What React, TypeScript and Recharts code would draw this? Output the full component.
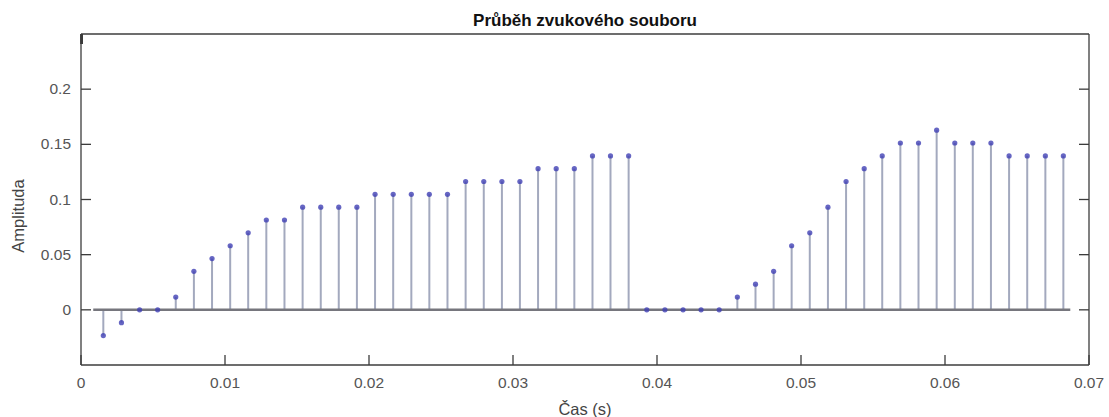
import React from 'react';
import { ComposedChart, Scatter, XAxis, YAxis, ReferenceLine } from 'recharts';

// sample times (s) and amplitudes of the stem plot
const TIMES = [
  0.00155, 0.00281, 0.00407, 0.00532, 0.00658, 0.00784, 0.0091, 0.01036, 0.01161, 0.01287,
  0.01413, 0.01539, 0.01665, 0.0179, 0.01916, 0.02042, 0.02168, 0.02294, 0.02419, 0.02545,
  0.02671, 0.02797, 0.02923, 0.03048, 0.03174, 0.033, 0.03426, 0.03552, 0.03677, 0.03803,
  0.03929, 0.04055, 0.04181, 0.04306, 0.04432, 0.04558, 0.04684, 0.0481, 0.04935, 0.05061,
  0.05187, 0.05313, 0.05439, 0.05564, 0.0569, 0.05816, 0.05942, 0.06068, 0.06193, 0.06319,
  0.06445, 0.06571, 0.06697, 0.06822,
];

const AMPLITUDES = [
  -0.0233, -0.0116, 0, 0, 0.0116, 0.0349, 0.0465, 0.0581, 0.0698, 0.0814,
  0.0814, 0.093, 0.093, 0.093, 0.093, 0.1047, 0.1047, 0.1047, 0.1047, 0.1047,
  0.1163, 0.1163, 0.1163, 0.1163, 0.1279, 0.1279, 0.1279, 0.1395, 0.1395, 0.1395,
  0, 0, 0, 0, 0, 0.0116, 0.0233, 0.0349, 0.0581, 0.0698,
  0.093, 0.1163, 0.1279, 0.1395, 0.1512, 0.1512, 0.1628, 0.1512, 0.1512, 0.1512,
  0.1395, 0.1395, 0.1395, 0.1395,
];

const X_TICKS = [0, 0.01, 0.02, 0.03, 0.04, 0.05, 0.06, 0.07];
const Y_TICKS = [0, 0.05, 0.1, 0.15, 0.2];
const X_DOMAIN = [0, 0.07];
const Y_DOMAIN = [-0.05, 0.25];
const BASELINE_RANGE = [0.00085, 0.0687];

const TITLE = 'Průběh zvukového souboru';
const X_LABEL = 'Čas (s)';
const Y_LABEL = 'Amplituda';

const FONT = '"Liberation Sans", Arial, Helvetica, sans-serif';
const AXIS_COLOR = '#3c3c3c';
const LABEL_COLOR = '#555555';
const STEM_COLOR = '#a3a9be';
const BASE_COLOR = '#76767d';
const MARKER_COLOR = '#4040b4';
const TICK_LEN = 10;

const samples = TIMES.map((t, i) => ({ t, a: AMPLITUDES[i] }));

const BottomTick = (props: any) => {
  const { x, y, payload } = props;
  return (
    <g>
      <line x1={x} y1={y} x2={x} y2={y - TICK_LEN} stroke={AXIS_COLOR} strokeWidth={1.3} />
      <text x={x} y={y + 23} textAnchor="middle" fill={LABEL_COLOR} fontSize={15.5} fontFamily={FONT}>
        {String(payload.value)}
      </text>
    </g>
  );
};

const TopTick = (props: any) => {
  const { x, y } = props;
  return <line x1={x} y1={y} x2={x} y2={y + TICK_LEN} stroke={AXIS_COLOR} strokeWidth={1.3} />;
};

const LeftTick = (props: any) => {
  const { x, y, payload } = props;
  return (
    <g>
      <line x1={x} y1={y} x2={x + TICK_LEN} y2={y} stroke={AXIS_COLOR} strokeWidth={1.3} />
      <text x={x - 10} y={y + 5} textAnchor="end" fill={LABEL_COLOR} fontSize={15.5} fontFamily={FONT}>
        {String(payload.value)}
      </text>
    </g>
  );
};

const RightTick = (props: any) => {
  const { x, y } = props;
  return <line x1={x} y1={y} x2={x - TICK_LEN} y2={y} stroke={AXIS_COLOR} strokeWidth={1.3} />;
};

const StemMarker = (props: any) => {
  const { cx, cy } = props;
  return <circle cx={cx} cy={cy} r={2.6} fill={MARKER_COLOR} fillOpacity={0.8} />;
};

export default function App() {
  return (
    <div style={{ position: 'absolute', left: 0, top: 0, width: 1109, height: 417, background: '#fff' }}>
      <ComposedChart width={1109} height={417} data={samples} margin={{ top: 0, right: 0, bottom: 0, left: 0 }}>
        <XAxis
          dataKey="t"
          type="number"
          domain={X_DOMAIN}
          ticks={X_TICKS}
          interval={0}
          height={52}
          allowDataOverflow
          tickLine={false}
          tickSize={0}
          tickMargin={0}
          tick={<BottomTick />}
          axisLine={{ stroke: AXIS_COLOR, strokeWidth: 1.3 }}
        />
        <XAxis
          xAxisId="top"
          orientation="top"
          type="number"
          domain={X_DOMAIN}
          ticks={X_TICKS}
          interval={0}
          height={34}
          allowDataOverflow
          tickLine={false}
          tickSize={0}
          tickMargin={0}
          tick={<TopTick />}
          axisLine={{ stroke: AXIS_COLOR, strokeWidth: 1.3 }}
        />
        <YAxis
          dataKey="a"
          type="number"
          domain={Y_DOMAIN}
          ticks={Y_TICKS}
          interval={0}
          width={81}
          allowDataOverflow
          tickLine={false}
          tickSize={0}
          tickMargin={0}
          tick={<LeftTick />}
          axisLine={{ stroke: AXIS_COLOR, strokeWidth: 1.3 }}
        />
        <YAxis
          yAxisId="right"
          orientation="right"
          type="number"
          domain={Y_DOMAIN}
          ticks={Y_TICKS}
          interval={0}
          width={20}
          allowDataOverflow
          tickLine={false}
          tickSize={0}
          tickMargin={0}
          tick={<RightTick />}
          axisLine={{ stroke: AXIS_COLOR, strokeWidth: 1.3 }}
        />
        {samples.map((s) => (
          <ReferenceLine
            key={`stem-${s.t}`}
            segment={[{ x: s.t, y: 0 }, { x: s.t, y: s.a }]}
            stroke={STEM_COLOR}
            strokeWidth={2}
          />
        ))}
        <ReferenceLine
          segment={[{ x: BASELINE_RANGE[0], y: 0 }, { x: BASELINE_RANGE[1], y: 0 }]}
          stroke={BASE_COLOR}
          strokeWidth={2.5}
        />
        <Scatter dataKey="a" shape={<StemMarker />} isAnimationActive={false} />
      </ComposedChart>
      <svg
        width={1109}
        height={417}
        style={{ position: 'absolute', left: 0, top: 0, pointerEvents: 'none' }}
      >
        <text x={585} y={25.5} textAnchor="middle" fontSize={17} fontWeight="bold" fill="#111" fontFamily={FONT}>
          {TITLE}
        </text>
        <text x={585} y={415} textAnchor="middle" fontSize={16.5} fill="#444" fontFamily={FONT}>
          {X_LABEL}
        </text>
        <text
          x={24}
          y={216}
          textAnchor="middle"
          fontSize={16.5}
          fill="#444"
          fontFamily={FONT}
          transform="rotate(-90 24 216)"
        >
          {Y_LABEL}
        </text>
      </svg>
    </div>
  );
}
